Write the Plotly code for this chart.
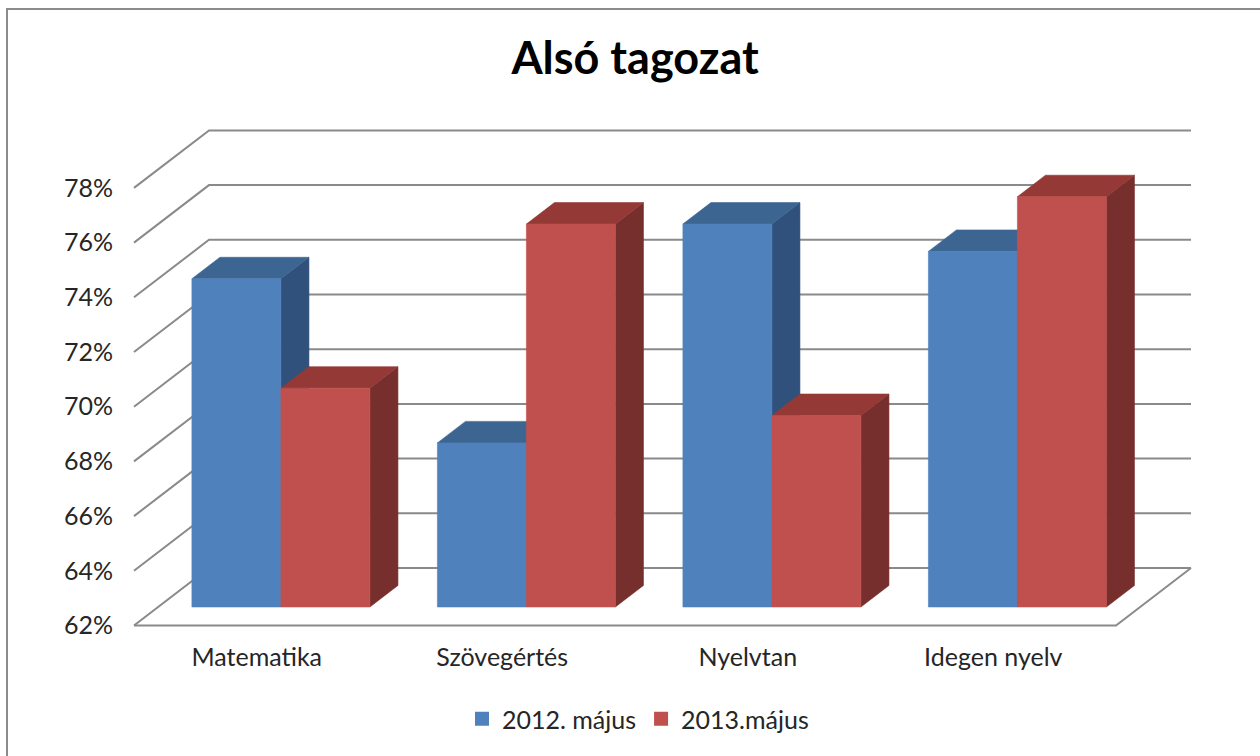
import plotly.graph_objects as go

# ---------------- data ----------------
categories = ["Matematika", "Szövegértés", "Nyelvtan", "Idegen nyelv"]
series_names = ["2012. május", "2013.május"]
values_2012 = [74, 68, 76, 75]
values_2013 = [70, 76, 69, 77]
y_tick_values = [62, 64, 66, 68, 70, 72, 74, 76, 78]
y_tick_labels = ["62%", "64%", "66%", "68%", "70%", "72%", "74%", "76%", "78%"]
title_text = "Alsó tagozat"

# ---------------- styling / geometry ----------------
W, H = 1260, 756
X0PX, UX = 134.0, 245.5      # front-left pixel and pixels per category
Y0PX, UY = 625.5, 27.35      # pixel of base value on front plane, pixels per %
BASE = y_tick_values[0]
DX = 75.0 / UX               # full depth offset in x units
DY = 57.5 / UY               # full depth offset in y units
F_DEPTH = 0.322              # bar front plane depth fraction
B_DEPTH = 0.374              # bar depth fraction
BAR_W = 89.0 / UX

ML, MR, MT, MB = 114, 44, 112, 116
PW, PH = W - ML - MR, H - MT - MB
x_range = [(ML - X0PX) / UX, (W - MR - X0PX) / UX]
y_range = [BASE - (H - MB - Y0PX) / UY, BASE + (Y0PX - MT) / UY]

GRID = "#8a8a8a"
FONT = "Lato"
TXT = "#262626"
colors = {
    0: dict(front="#4F81BD", top="#3C6592", side="#30517C"),
    1: dict(front="#C0504D", top="#943936", side="#772F2D"),
}

fig = go.Figure()

# gridlines: side wall + back wall
gx, gy = [], []
for v in y_tick_values:
    gx += [0, DX, len(categories) + DX, None]
    gy += [v, v + DY, v + DY, None]
# floor front and right edges
gx += [0, len(categories), len(categories) + DX, None]
gy += [BASE, BASE, BASE + DY, None]
fig.add_trace(go.Scatter(x=gx, y=gy, mode="lines", line=dict(color=GRID, width=2),
                         hoverinfo="skip", showlegend=False))


def poly(xs, ys, color):
    fig.add_trace(go.Scatter(x=xs + [xs[0]], y=ys + [ys[0]], mode="lines", fill="toself",
                             fillcolor=color, line=dict(color=color, width=0.6),
                             hoverinfo="skip", showlegend=False))


fdx, fdy = F_DEPTH * DX, F_DEPTH * DY
bdx, bdy = B_DEPTH * DX, B_DEPTH * DY
all_values = [values_2012, values_2013]
for i, cat in enumerate(categories):
    center = i + 0.5 + fdx
    for s, vals in enumerate(all_values):
        c = colors[s]
        x0 = center + (s - 1) * BAR_W
        x1 = x0 + BAR_W
        yb = BASE + fdy
        yt = vals[i] + fdy
        # side face
        poly([x1, x1, x1 + bdx, x1 + bdx], [yb, yt, yt + bdy, yb + bdy], c["side"])
        # top face
        poly([x0, x1, x1 + bdx, x0 + bdx], [yt, yt, yt + bdy, yt + bdy], c["top"])
        # front face
        poly([x0, x1, x1, x0], [yb, yb, yt, yt], c["front"])

# legend entries
for s, name in enumerate(series_names):
    fig.add_trace(go.Scatter(x=[None], y=[None], mode="markers", name=name,
                             marker=dict(symbol="square", size=14, color=colors[s]["front"])))


def px_to_paper_x(px):
    return (px - ML) / PW


def px_to_paper_y(py):
    return (H - MB - py) / PH


# outer frame (left and top edges visible)
fig.add_shape(type="line", xref="paper", yref="paper",
              x0=px_to_paper_x(7), x1=px_to_paper_x(7), y0=px_to_paper_y(9), y1=px_to_paper_y(H + 5),
              line=dict(color="#8c8c8c", width=2))
fig.add_shape(type="line", xref="paper", yref="paper",
              x0=px_to_paper_x(6), x1=px_to_paper_x(W + 5), y0=px_to_paper_y(9), y1=px_to_paper_y(9),
              line=dict(color="#8c8c8c", width=2))

fig.update_layout(
    width=W, height=H, autosize=False,
    margin=dict(l=ML, r=MR, t=MT, b=MB),
    paper_bgcolor="white", plot_bgcolor="rgba(0,0,0,0)",
    font=dict(family=FONT, color=TXT),
    title=dict(text="<b>" + title_text + "</b>", x=0.504, xref="container", xanchor="center",
               y=1 - 58 / H, yref="container", yanchor="middle",
               font=dict(family=FONT, size=45, color="#000000")),
    xaxis=dict(range=x_range, showgrid=False, zeroline=False, showline=False,
               tickmode="array", tickvals=[i + 0.5 for i in range(len(categories))],
               ticktext=categories, tickfont=dict(size=25, color=TXT), ticks="",
               fixedrange=True),
    yaxis=dict(range=y_range, showgrid=False, zeroline=False, showline=False,
               tickmode="array", tickvals=y_tick_values, ticktext=y_tick_labels,
               tickfont=dict(size=25, color=TXT), ticks="", fixedrange=True),
    legend=dict(orientation="h", x=px_to_paper_x(638), xanchor="center",
                y=px_to_paper_y(719), yanchor="middle",
                font=dict(size=25, color=TXT), itemwidth=30),
    showlegend=True,
    hovermode=False,
)

fig.write_html("out.html", config={"displayModeBar": False},
               post_script="document.body.style.margin='0px';document.body.style.overflow='hidden';")
